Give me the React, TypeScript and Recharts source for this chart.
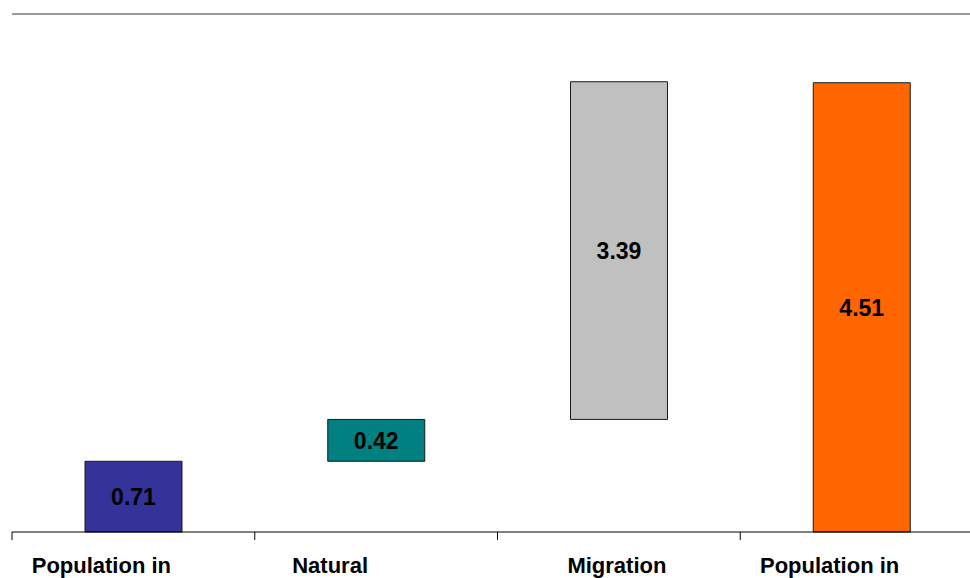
import React from "react";
import { BarChart, Bar, XAxis, YAxis, ReferenceLine, LabelList, Cell } from "recharts";

// Population change, in millions: start, components of change, end
const categories = ["Population in", "Natural", "Migration", "Population in"];
const changes = [0.71, 0.42, 3.39, 4.51];
const isTotal = [true, false, false, true];
const colors = ["#333399", "#008080", "#C0C0C0", "#FF6600"];
const yTicks = [0, 5.2];

// Floating (invisible) base for each step of the waterfall
const bases: number[] = [];
let running = 0;
changes.forEach((v, i) => {
  if (isTotal[i]) {
    bases.push(0);
    running = v;
  } else {
    bases.push(running);
    running += v;
  }
});

const data = categories.map((name, i) => ({
  key: `${name}-${i}`,
  name,
  base: bases[i],
  value: changes[i],
}));

const CHART_W = 1000;
const CHART_H = 578;
const MARGIN = { top: 14, right: 17, bottom: 0, left: 12 };
const BAND = (CHART_W - MARGIN.left - MARGIN.right) / categories.length;
// horizontal nudges of each category caption relative to its band centre
const CAPTION_SHIFT = [-32, -46, -2, -32];

const FONT = "Arial, 'Liberation Sans', Helvetica, sans-serif";

const CategoryTick = (props: any) => {
  const { x, y, payload, index } = props;
  const left = x - BAND / 2;
  return (
    <g>
      <line x1={left} y1={y} x2={left} y2={y + 8} stroke="#000" strokeWidth={1} />
      <text
        x={x + CAPTION_SHIFT[index]}
        y={y + 41}
        textAnchor="middle"
        fontFamily={FONT}
        fontWeight="bold"
        fontSize={22}
        fill="#000"
      >
        {categories[index] ?? payload.value}
      </text>
    </g>
  );
};

export default function App() {
  return (
    <div
      style={{
        position: "absolute",
        left: 0,
        top: 0,
        width: 970,
        height: 578,
        overflow: "hidden",
        background: "#fff",
      }}
    >
      <BarChart width={CHART_W} height={CHART_H} data={data} margin={MARGIN}>
        <XAxis
          dataKey="key"
          axisLine={{ stroke: "#000", strokeWidth: 1 }}
          tickLine={false}
          tickSize={0}
          tickMargin={0}
          height={46}
          interval={0}
          tick={<CategoryTick />}
        />
        <YAxis
          domain={[0, 5.2]}
          ticks={yTicks}
          width={0}
          tick={false}
          tickLine={false}
          axisLine={{ stroke: "#8c8c8c", strokeWidth: 1 }}
        />
        <ReferenceLine y={5.2} stroke="#9a9a9a" strokeWidth={2} />
        <Bar dataKey="base" stackId="w" fill="transparent" barSize={97} isAnimationActive={false} />
        <Bar
          dataKey="value"
          stackId="w"
          barSize={97}
          stroke="#1a1a1a"
          strokeWidth={1}
          isAnimationActive={false}
        >
          {data.map((d, i) => (
            <Cell key={d.key} fill={colors[i]} />
          ))}
          <LabelList
            dataKey="value"
            position="center"
            formatter={(v: any) => Number(v).toFixed(2)}
            style={{ fontFamily: FONT, fontWeight: "bold", fontSize: 23, fill: "#000" }}
          />
        </Bar>
      </BarChart>
    </div>
  );
}
